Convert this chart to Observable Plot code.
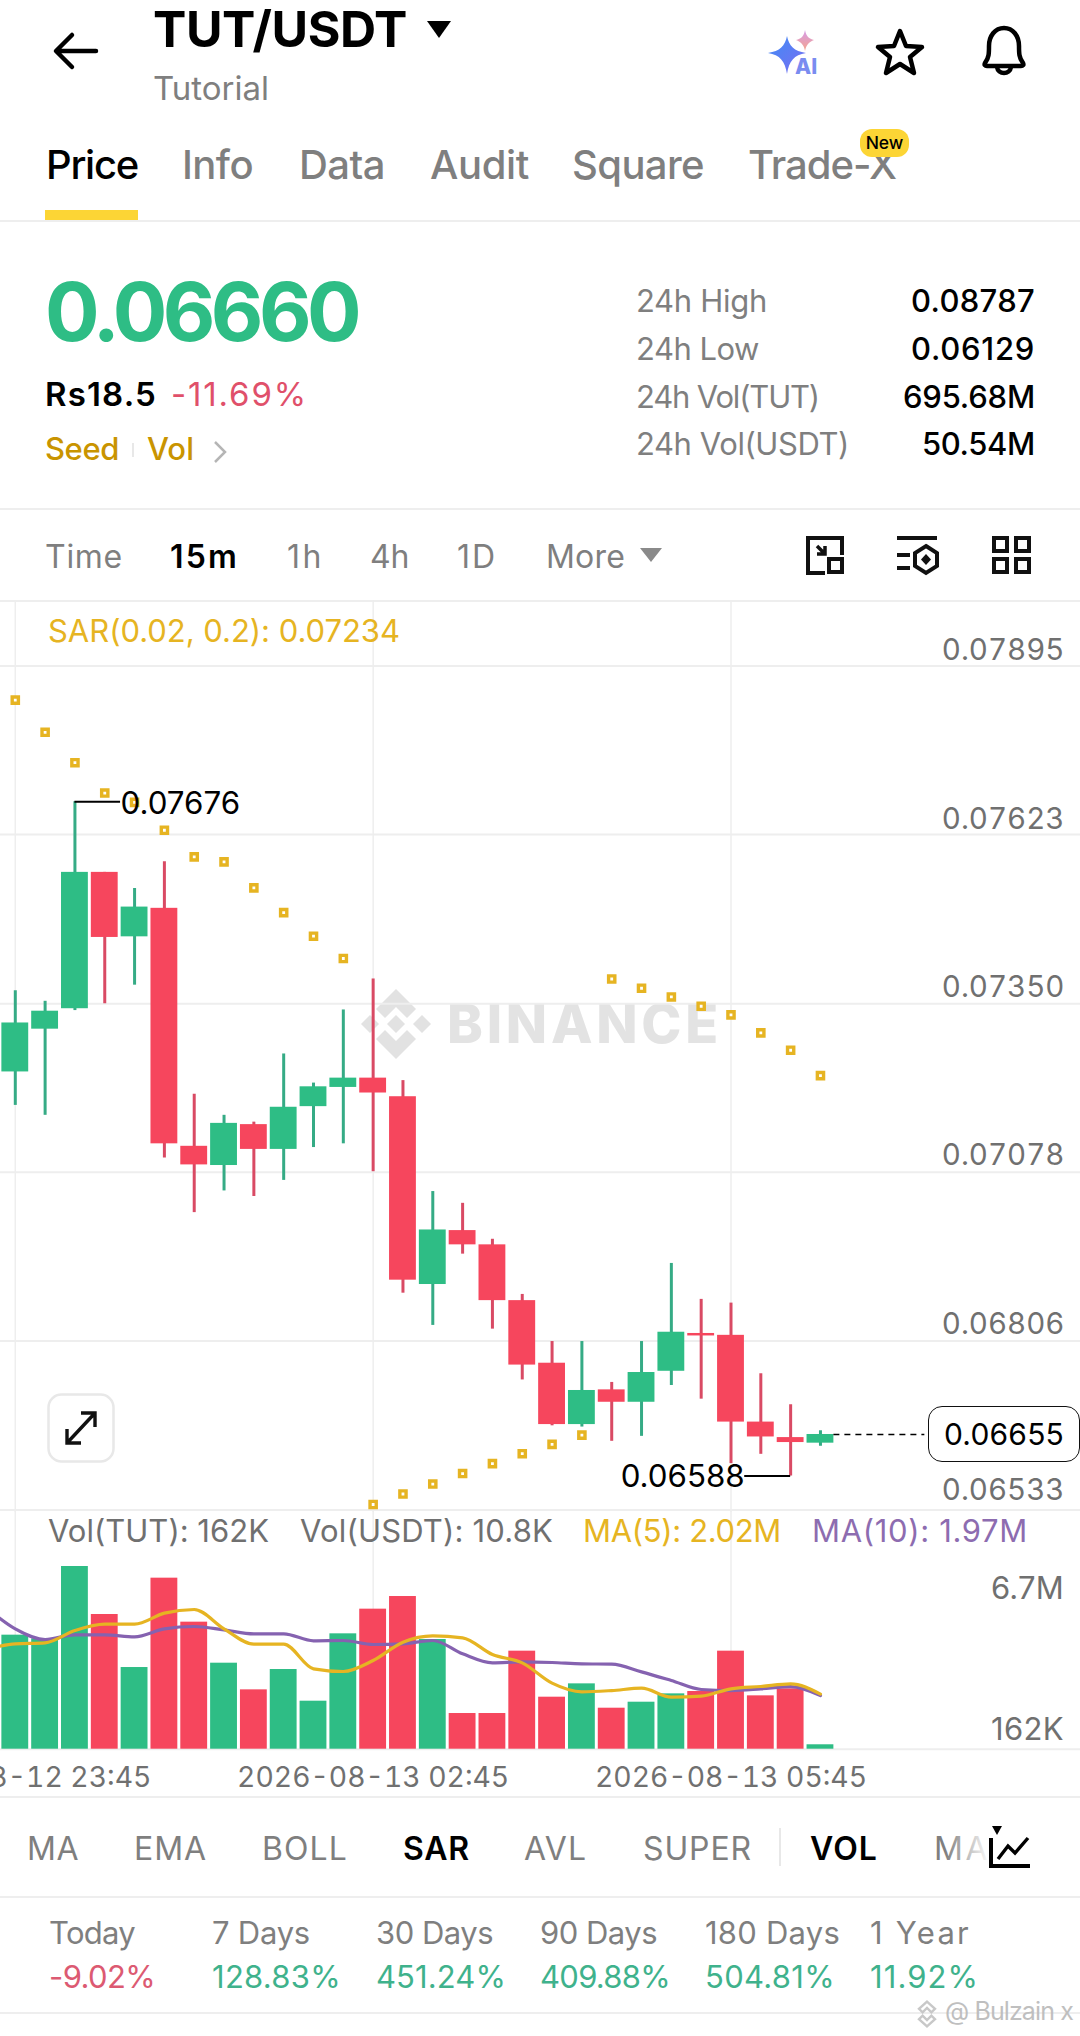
<!DOCTYPE html>
<html><head><meta charset="utf-8">
<script src="https://cdn.jsdelivr.net/npm/d3@7"></script>
<script src="https://cdn.jsdelivr.net/npm/@observablehq/plot@0.6"></script>
<style>
html,body{margin:0;padding:0;background:#fff}
#page{position:relative;width:1080px;height:2036px;overflow:hidden;background:#fff;font-family:Inter,sans-serif}
#page .t{position:absolute;line-height:0;white-space:pre}
#page .hr{position:absolute;left:0;width:1080px;height:2px;background:#eeeeee}
#page svg.ic{position:absolute;overflow:visible}
#page .plotwrap{position:absolute;left:0;width:1080px}
#page .plotwrap svg{display:block}
</style></head><body><div id="page"></div>
<script>
// ---- chart data ----
const opens  = [.07240,.07309,.07342,.07562,.07458,.07504,.07120,.07089,.07155,.07115,.07184,.07215,.07230,.07200,.06897,.06984,.06961,.06871,.06770,.06671,.06727,.06707,.06757,.06818,.06815,.06675,.06650,.06641];
const highs  = [.07371,.07354,.07676,.07562,.07536,.07579,.07204,.07170,.07159,.07269,.07222,.07340,.07390,.07226,.07047,.07028,.06970,.06881,.06805,.06805,.06739,.06805,.06931,.06873,.06867,.06753,.06703,.06661];
const lows   = [.07186,.07170,.07339,.07350,.07380,.07101,.07013,.07048,.07039,.07065,.07118,.07124,.07079,.06883,.06831,.06946,.06825,.06743,.06669,.06667,.06644,.06652,.06734,.06712,.06608,.06623,.06588,.06636];
const closes = [.07319,.07338,.07562,.07457,.07506,.07124,.07090,.07157,.07115,.07183,.07216,.07230,.07206,.06904,.06985,.06961,.06871,.06767,.06671,.06726,.06707,.06755,.06820,.06814,.06675,.06651,.06642,.06655];
const sar    = [.07840,.07788,.07739,.07690,.07675,.07630,.07587,.07579,.07537,.07497,.07459,.07423,.06542,.06559,.06575,.06592,.06608,.06624,.06639,.06654,.07390,.07375,.07361,.07346,.07332,.07303,.07275,.07234];
const volumes= [4183,4048,6702,4941,2996,6274,4660,3155,2177,2923,1761,4232,5137,5601,4024,1309,1309,3596,1908,2397,1504,1724,2030,2116,3596,1957,2214,162];
// moving averages in thousands; first value belongs to the candle just off the left edge
const ma5    = [3669,3865,3901,4354,4586,4586,4990,5124,4415,3852,3852,2947,2850,3253,3926,4158,4085,3473,3168,2422,2104,2152,2238,1908,1945,2214,2299,2397,2020];
const ma10   = [5222,4415,4024,4195,4195,4122,4415,4501,4378,4232,4232,3975,3987,3840,3865,3987,3498,3168,3204,3180,3131,3119,2837,2519,2189,2152,2214,2299,1970];
const priceTicksUpper = [.07895,.07623];
const priceTicksMid = [.07350,.07078,.06806];
const priceFloor = .06533;
const lastPrice = .06655;
const timeTickIdx = [0,12,24];
const timeTickLabels = ["2026-08-12 23:45","2026-08-13 02:45","2026-08-13 05:45"];
const volumeLabels = ["6.7M","162K"];
const tabs = ["Price","Info","Data","Audit","Square","Trade-X"];
const frames = ["Time","15m","1h","4h","1D","More"];
const indicators = ["MA","EMA","BOLL","SAR","AVL","SUPER","VOL","MA"];
const periods = ["Today","7 Days","30 Days","90 Days","180 Days","1 Year"];
const periodValues = ["-9.02%","128.83%","451.24%","409.88%","504.81%","11.92%"];
const stats = [["24h High","0.08787"],["24h Low","0.06129"],["24h Vol(TUT)","695.68M"],["24h Vol(USDT)","50.54M"]];

// ---- palette ----
const GREEN="#2ebd85", RED="#f6465d", YEL="#e6b422", PUR="#8562b0", GREY="#7f7f7f", AXIS="#707070", LINE="#eeeeee";
const page=document.getElementById("page");
const F=.3635;
function t(text,x,base,size,color,weight=400,o={}){
  const e=document.createElement("div");e.className="t";e.textContent=text;
  e.style.fontSize=size+"px";e.style.color=color;e.style.fontWeight=weight;
  e.style.top=(base-F*size)+"px";
  if(o.right)e.style.right=(1080-x)+"px";else e.style.left=x+"px";
  page.appendChild(e);
  if(o.w){const cw=e.getBoundingClientRect().width;e.style.letterSpacing=((o.w-cw)/text.length)+"px";}
  if(o.z)e.style.zIndex=o.z;
  if(o.op)e.style.opacity=o.op;
  return e;
}
function hr(y,c){const e=document.createElement("div");e.className="hr";e.style.top=y+"px";if(c)e.style.background=c;page.appendChild(e);}
function ic(x,y,w,h,inner){const ns=`<svg class="ic" xmlns="http://www.w3.org/2000/svg" style="left:${x}px;top:${y}px;z-index:3" width="${w}" height="${h}" viewBox="0 0 ${w} ${h}" fill="none">${inner}</svg>`;page.insertAdjacentHTML("beforeend",ns);}

// ---- header ----
ic(52,32,46,38,`<path d="M44 19H5M20 3 4 19l16 16" stroke="#000" stroke-width="4.5" stroke-linecap="round" stroke-linejoin="round"/>`);
t("TUT/USDT",153,47,50,"#000",700,{w:254});
ic(426,20,26,20,`<path d="M1 1H25L13 18Z" fill="#000"/>`);
t("Tutorial",153,100,33,GREY,400,{w:116});
ic(766,28,56,48,`<defs><linearGradient id="ga" x1="0" y1="0" x2="1" y2="1"><stop offset="0" stop-color="#3f8cf5"/><stop offset="1" stop-color="#7b6df2"/></linearGradient><linearGradient id="gb" x1="0" y1="0" x2="0" y2="1"><stop offset="0" stop-color="#d69be8"/><stop offset="1" stop-color="#f5a58c"/></linearGradient></defs>
<path d="M21 8C23 18 28 23 40 25 28 27 23 33 21 46 19 33 14 27 2 25 14 23 19 18 21 8Z" fill="url(#ga)"/>
<path d="M39 2C40 8 43 11 48 12 43 14 40 17 39 23 38 17 35 14 30 12 35 11 38 8 39 2Z" fill="url(#gb)"/>
<text x="29" y="46" font-size="21" font-weight="800" fill="#7a8cf0" font-family="Inter">AI</text>`);
ic(874,27,52,52,`<path d="M26 4 32 19 48 20 36 30 40 46 26 37 12 46 16 30 4 20 20 19Z" stroke="#000" stroke-width="4.5" stroke-linejoin="round"/>`);
ic(977,25,54,54,`<path d="M8 38C12 33 12 28 12 21 12 11 18 3 27 3 36 3 42 11 42 21 42 28 42 33 46 38 47 40 46 41 44 41H10C8 41 7 40 8 38Z" stroke="#000" stroke-width="4.5" stroke-linejoin="round"/><path d="M20 42C21 50 33 50 34 42" stroke="#000" stroke-width="4.5"/>`);
// tabs
const tabX=[[46,92],[182,71],[299,86],[430,99],[572,132],[748,148]];
tabs.forEach((s,i)=>t(s,tabX[i][0],180,40,i==0?"#000":GREY,500,{w:tabX[i][1]}));
ic(860,129,50,29,`<rect x="0" y="0" width="49" height="28" rx="12" fill="#fcd535"/><text x="24.5" y="20" text-anchor="middle" font-size="17.5" font-weight="500" fill="#000" font-family="Inter">New</text>`);
ic(45,210,93,10,`<rect width="93" height="10" fill="#fcd535"/>`);
hr(220);
// price block
t("0.06660",45,341,81,GREEN,700,{w:312});
t("Rs18.5",45,406,33,"#000",600,{w:112});
t("-11.69%",171,406,33,"#e0506a",400,{w:137});
t("Seed",45,460,31,"#c99400",500,{w:74});
t("Vol",147,460,31,"#c99400",500,{w:47});
ic(132,443,2,14,`<rect width="2" height="14" fill="#e8e8e8"/>`);
ic(212,440,16,24,`<path d="M3 2 13 12 3 22" stroke="#b5b5b5" stroke-width="2.5"/>`);
const statW=[131,123,183,213], statVW=[124,124,132,113];
stats.forEach((r,i)=>{const b=312.5+i*47.7;t(r[0],636,b,31,GREY,400,{w:statW[i]});t(r[1],1035,b,31,"#000",500,{right:true,w:statVW[i]});});
hr(508);
// timeframes
const frameX=[[45,78],[170,69],[287,37],[370,39],[457,40],[546,79]];
frames.forEach((s,i)=>t(s,frameX[i][0],569,32,i==1?"#000":GREY,i==1?600:400,{w:frameX[i][1]}));
ic(639,547,24,16,`<path d="M1 1H23L12 15Z" fill="#8a8a8a"/>`);
ic(805,535,40,40,`<path d="M20 38H3V3H37V20" stroke="#111" stroke-width="4"/><path d="M12 11 20 19M20 11V19H12" stroke="#111" stroke-width="3.5"/><rect x="24" y="24" width="13" height="13" stroke="#111" stroke-width="4"/>`);
ic(896,535,44,40,`<path d="M1 3H41M1 20H14M1 33H14" stroke="#111" stroke-width="4"/><path d="M30 11 41 18V31L30 38 19 31V18Z" stroke="#111" stroke-width="4"/><path d="M30 19 35 24.5 30 30 25 24.5Z" fill="#111"/>`);
ic(990,535,42,40,`<rect x="4" y="3" width="13" height="13" stroke="#111" stroke-width="4"/><rect x="26" y="3" width="13" height="13" stroke="#111" stroke-width="4"/><rect x="4" y="24" width="13" height="13" stroke="#111" stroke-width="4"/><rect x="26" y="24" width="13" height="13" stroke="#111" stroke-width="4"/>`);
hr(600);
// watermark under the chart
page.insertAdjacentHTML("beforeend",`<svg class="ic" style="left:361px;top:989px;z-index:0" width="70" height="70" viewBox="0 0 70 70" fill="#e2e2e2"><path d="M35 0 55 20 46 29 35 18 24 29 15 20Z"/><path d="M35 70 55 50 46 41 35 52 24 41 15 50Z"/><path d="M35 26 44 35 35 44 26 35Z"/><path d="M9 26 18 35 9 44 0 35Z"/><path d="M61 26 70 35 61 44 52 35Z"/></svg>`);
t("BINANCE",447,1044,54,"#e3e3e3",800,{w:275,z:0});

// ---- price chart ----
const candles=opens.map((o,i)=>({i,o,h:highs[i],l:lows[i],c:closes[i],s:sar[i],v:volumes[i]*1000}));
const col=d=>d.c>=d.o?GREEN:RED;
const wick=d=>d.c>=d.o?"#35ab85":"#d94a64";
const xDomain=[-0.496,35.72], xRange=[0,1080];
const axisOpts=(dy)=>({anchor:"left",tickSize:0,tickPadding:0,dx:1064,dy,label:null,tickFormat:d3.format(".5f"),fill:AXIS,fontSize:29.5});
const pricePlot=Plot.plot({
  width:1080,height:912,margin:0,
  style:{background:"transparent",fontFamily:"Inter",overflow:"visible"},
  x:{domain:xDomain,range:xRange,axis:null},
  y:{domain:[priceFloor,priceTicksUpper[0]],range:[909.6,65.5],axis:null},
  color:{type:"identity"},
  marks:[
    Plot.ruleY([...priceTicksUpper,...priceTicksMid,priceFloor],{stroke:LINE,strokeWidth:2}),
    Plot.ruleX(timeTickIdx,{stroke:LINE,strokeWidth:1.5}),
    Plot.ruleX(candles,{x:"i",y1:"l",y2:"h",stroke:wick,strokeWidth:3}),
    Plot.rect(candles,{x1:d=>d.i-.45,x2:d=>d.i+.45,y1:"o",y2:"c",fill:col}),
    Plot.dot(candles,{x:"i",y:"s",symbol:"square",r:3.5,fill:"#fff",stroke:YEL,strokeWidth:3.4}),
    Plot.axisY(priceTicksUpper,axisOpts(-15)),
    Plot.axisY(priceTicksMid,axisOpts(-16.5)),
    Plot.axisY([priceFloor],axisOpts(-20)),
    // high / low callouts
    Plot.ruleY([highs[2]],{x1:2,x2:3.53,stroke:"#000",strokeWidth:1.8}),
    Plot.text([highs[2]],{x:3.53,y:d=>d,text:d=>d3.format(".5f")(d),textAnchor:"start",dy:2,fill:"#000",fontSize:31.3}),
    Plot.ruleY([lows[26]],{x1:24.46,x2:26,stroke:"#000",strokeWidth:1.8}),
    Plot.text([lows[26]],{x:24.46,y:d=>d,text:d=>d3.format(".5f")(d),textAnchor:"end",dy:1,fill:"#000",fontSize:31.3}),
    // last price
    Plot.ruleY([lastPrice],{x1:27.45,x2:30.5,stroke:"#000",strokeWidth:1.6,strokeDasharray:"6 5"})
  ]
});
const w1=document.createElement("div");w1.className="plotwrap";w1.style.top="600px";w1.style.zIndex=1;w1.appendChild(pricePlot);page.appendChild(w1);
t("SAR(0.02, 0.2): 0.07234",48,642,31,YEL,400,{w:352,z:2});
// last price box
const box=document.createElement("div");box.style.cssText="position:absolute;left:928px;top:1406px;width:150px;height:54px;border:1.6px solid #111;border-radius:14px;background:#fff;z-index:2";page.appendChild(box);
const lp=t(d3.format(".5f")(lastPrice),1064,1445,30,"#000",400,{right:true,w:120,z:3});
// expand button
ic(47,1393,68,70,`<rect x="1.5" y="1.5" width="65" height="67" rx="13" fill="#fff" stroke="#e8e8e8" stroke-width="2.5"/><path d="M20 50 48 20M34 20H48V34M20 36V50H34" stroke="#111" stroke-width="3.4"/>`);

// ---- volume chart ----
const maRows=(arr)=>arr.map((v,k)=>({i:k-1,v:v*1000}));
const volPlot=Plot.plot({
  width:1080,height:290,marginTop:0,marginLeft:0,marginRight:0,marginBottom:23,
  style:{background:"transparent",fontFamily:"Inter"},
  x:{domain:xDomain,range:xRange,axis:null},
  y:{domain:[0,6702000],range:[238.7,56],axis:null},
  color:{type:"identity"},
  marks:[
    Plot.ruleX(timeTickIdx,{y1:0,y2:9000000,stroke:LINE,strokeWidth:1.5}),
    Plot.ruleY([0],{stroke:LINE,strokeWidth:2}),
    Plot.rect(candles,{x1:d=>d.i-.45,x2:d=>d.i+.45,y1:0,y2:"v",fill:col}),
    Plot.line(maRows(ma10),{x:"i",y:"v",stroke:PUR,strokeWidth:3.2,curve:"monotone-x",clip:true}),
    Plot.line(maRows(ma5),{x:"i",y:"v",stroke:YEL,strokeWidth:3.2,curve:"monotone-x",clip:true}),
    Plot.axisX(timeTickIdx,{anchor:"bottom",tickSize:0,tickPadding:0,lineAnchor:"middle",label:null,tickFormat:i=>timeTickLabels[timeTickIdx.indexOf(i)],fill:AXIS,fontSize:28.3})
  ]
});
const w2=document.createElement("div");w2.className="plotwrap";w2.style.top="1510px";w2.style.zIndex=1;w2.appendChild(volPlot);page.appendChild(w2);
t("Vol(TUT): 162K",48,1542,31,AXIS,400,{w:221,z:2});
t("Vol(USDT): 10.8K",300,1542,31,AXIS,400,{w:253,z:2});
t("MA(5): 2.02M",583,1542,31,YEL,400,{w:198,z:2});
t("MA(10): 1.97M",812,1542,31,"#8d6cb0",400,{w:216,z:2});
t(volumeLabels[0],1064,1599,31,AXIS,400,{right:true,w:73,z:2});
t(volumeLabels[1],1064,1740,31,AXIS,400,{right:true,w:73,z:2});
hr(1796);

// ---- indicators ----
const indX=[[27,52],[134,73],[262,86],[403,67],[524,63],[643,109],[810,68],[934,56]];
indicators.forEach((s,i)=>t(s,indX[i][0],1861,32,(i==3||i==6)?"#000":GREY,(i==3||i==6)?600:400,{w:indX[i][1]}));
ic(779,1828,2,38,`<rect width="2" height="38" fill="#e8e8e8"/>`);
page.insertAdjacentHTML("beforeend",`<div style="position:absolute;left:945px;top:1825px;width:45px;height:44px;background:linear-gradient(90deg,rgba(255,255,255,0),#fff);z-index:3"></div><div style="position:absolute;left:988px;top:1825px;width:50px;height:44px;background:#fff;z-index:3"></div>`);
ic(988,1826,46,44,`<path d="M4 0 14 0 9 9Z" fill="#000"/><path d="M3 12V40H42" stroke="#000" stroke-width="4"/><path d="M10 33 20 20 27 27 40 12" stroke="#000" stroke-width="3.4"/>`);
hr(1896);
const perX=[49,212,376,540,705,870], perW=[86,98,117,117,135,101], valW=[106,129,130,130,130,109];
periods.forEach((s,i)=>{t(s,perX[i],1944,31,GREY,400,{w:perW[i]});
  t(periodValues[i],perX[i],1988,31,periodValues[i][0]=="-"?"#dc5a72":"#3fb28c",400,{w:valW[i]});});
hr(2012);
t("@ Bulzain x",945,2020,25,"#b9b9b9",400,{w:128,z:3,op:.9});
page.insertAdjacentHTML("beforeend",`<svg class="ic" style="left:912px;top:2000px;z-index:3" width="30" height="28" viewBox="0 0 70 70" fill="none" stroke="#c8c8c8" stroke-width="6"><path d="M35 4 55 22 46 31 35 20 24 31 15 22Z"/><path d="M35 66 55 48 46 39 35 50 24 39 15 48Z"/></svg>`);
</script></body></html>
